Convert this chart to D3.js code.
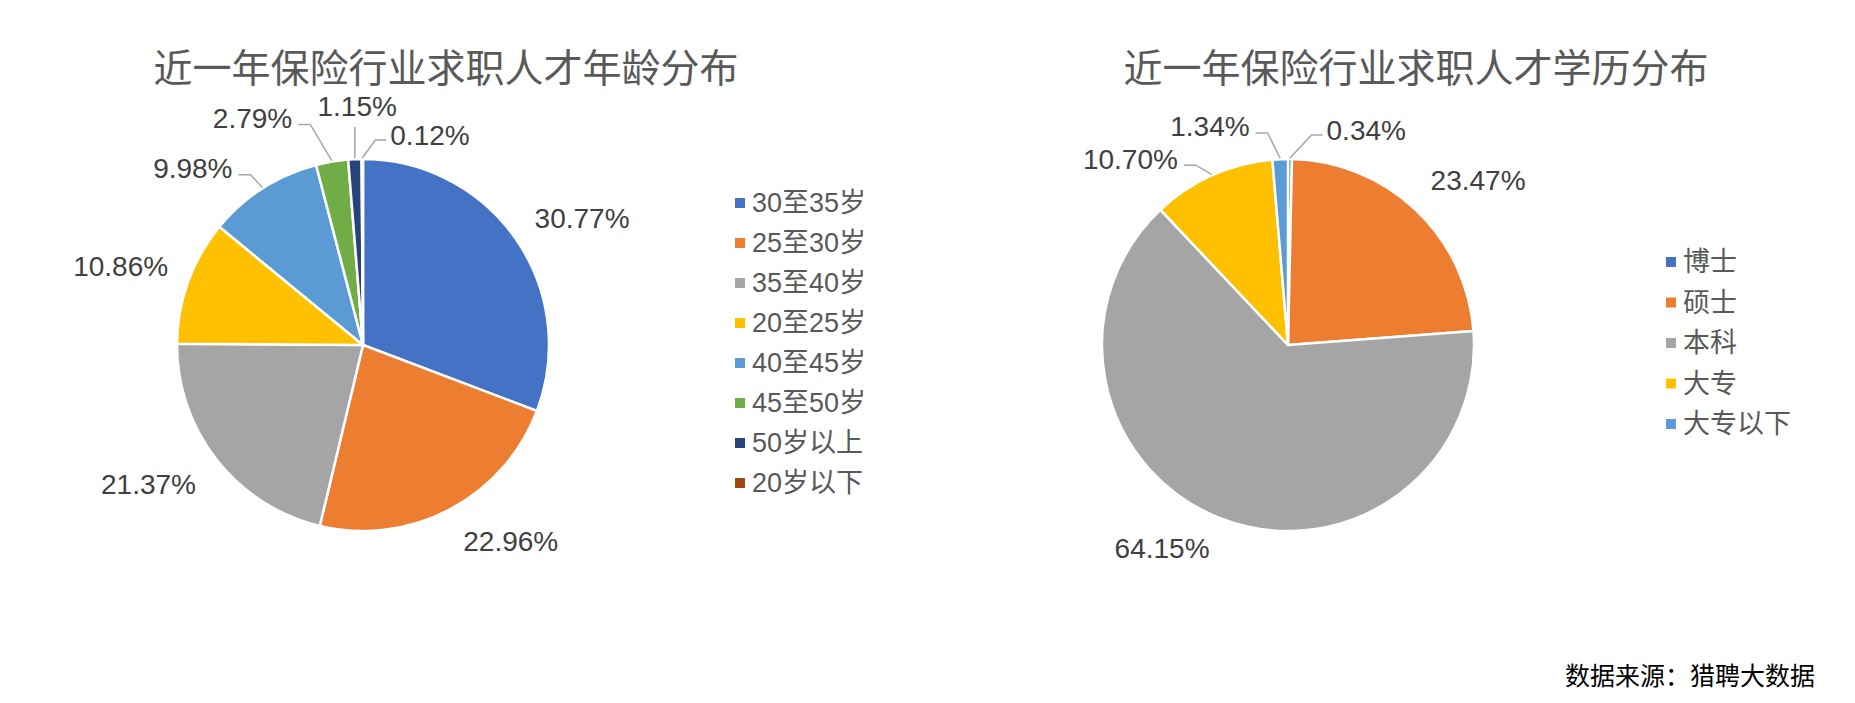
<!DOCTYPE html>
<html>
<head>
<meta charset="utf-8">
<script src="https://cdn.jsdelivr.net/npm/d3@7"></script>
<style>
  html, body { margin: 0; padding: 0; background: #fff; }
  svg { display: block; }
</style>
</head>
<body>
<svg id="chart" width="1855" height="703"></svg>
<script>
// ---------- data ----------
const ageTitle = "近一年保险行业求职人才年龄分布";
const ageCategories = ["30至35岁", "25至30岁", "35至40岁", "20至25岁", "40至45岁", "45至50岁", "50岁以上", "20岁以下"];
const ageValues = [30.77, 22.96, 21.37, 10.86, 9.98, 2.79, 1.15, 0.12];
const ageColors = ["#4472C4", "#ED7D31", "#A5A5A5", "#FFC000", "#5B9BD5", "#70AD47", "#264478", "#9E480E"];

const eduTitle = "近一年保险行业求职人才学历分布";
const eduCategories = ["博士", "硕士", "本科", "大专", "大专以下"];
const eduValues = [0.34, 23.47, 64.15, 10.70, 1.34];
const eduColors = ["#4472C4", "#ED7D31", "#A5A5A5", "#FFC000", "#5B9BD5"];

const sourceNote = "数据来源：猎聘大数据";

// label placement (polar: angle in degrees from top, distance as multiple of radius, leader?)
const ageLabelPolar = [[60, 1.36, false], [143, 1.32, false], [237, 1.375, false], [288, 1.37, false],
                       [316, 1.317, true], [334, 1.355, true], [358.6, 1.28, true], [17.7, 1.185, true]];
const eduLabelPolar = [[20, 1.23, true], [49.2, 1.35, false], [211.8, 1.285, false],
                       [319.7, 1.31, true], [340.3, 1.245, true]];

const svg = d3.select("#chart");
const CJK = "'Noto Sans CJK SC', sans-serif";
const NUM = "'Liberation Sans', 'Noto Sans CJK SC', sans-serif";

function drawPie(opt) {
  const { cx, cy, r, values, cats, colors, polar, title, titleX, legendX, legendY, legendStep } = opt;
  const g = svg.append("g");

  g.append("text")
    .attr("x", titleX).attr("y", 65)
    .attr("text-anchor", "middle").attr("dominant-baseline", "central")
    .style("font-family", CJK).style("font-size", "39px").style("fill", "#595959")
    .text(title);

  const pie = d3.pie().sort(null).value(d => d)(values);
  const arc = d3.arc().innerRadius(0).outerRadius(r);
  const pg = g.append("g").attr("transform", `translate(${cx},${cy})`);
  pg.selectAll("path").data(pie).join("path")
    .attr("d", arc)
    .attr("fill", (d, i) => colors[i])
    .attr("stroke", "#fff").attr("stroke-width", 2.5).attr("stroke-linejoin", "round");

  // labels
  pie.forEach((d, i) => {
    const [deg, k, leader] = polar[i];
    const a = deg * Math.PI / 180;
    const lx = cx + Math.sin(a) * r * k;
    const ly = cy - Math.cos(a) * r * k;
    const t = g.append("text")
      .attr("x", lx).attr("y", ly)
      .attr("text-anchor", "middle").attr("dominant-baseline", "central")
      .style("font-family", NUM).style("font-size", "28px").style("fill", "#404040")
      .text(values[i].toFixed(2) + "%");
    if (leader) {
      const w = t.node().getComputedTextLength();
      const mid = (d.startAngle + d.endAngle) / 2;
      const ex = cx + Math.sin(mid) * (r + 1);
      const ey = cy - Math.cos(mid) * (r + 1);
      let pts;
      if (Math.abs(ex - lx) < w / 4) {
        pts = [[ex, ey], [ex, ly + 20]];
      } else if (lx < ex) {
        const ax = lx + w / 2 + 6, ay = ly + 6;
        pts = [[ax, ay], [ax + 12, ay], [ex, ey]];
      } else {
        const ax = lx - w / 2 - 4, ay = ly + 5;
        pts = [[ax, ay], [ax - 11, ay], [ex, ey]];
      }
      g.append("path")
        .attr("d", d3.line()(pts))
        .attr("fill", "none").attr("stroke", "#A6A6A6").attr("stroke-width", 1.5);
    }
  });

  // legend
  const lg = g.append("g");
  cats.forEach((c, i) => {
    const y = legendY + i * legendStep;
    lg.append("rect").attr("x", legendX).attr("y", y - 5).attr("width", 10).attr("height", 10)
      .attr("fill", colors[i]);
    lg.append("text").attr("x", legendX + 17).attr("y", y)
      .attr("dominant-baseline", "central")
      .style("font-family", NUM).style("font-size", "27px").style("fill", "#595959")
      .text(c);
  });
}

drawPie({ cx: 363, cy: 345, r: 186, values: ageValues, cats: ageCategories, colors: ageColors,
  polar: ageLabelPolar, title: ageTitle, titleX: 446, legendX: 735, legendY: 203, legendStep: 40 });

drawPie({ cx: 1288, cy: 345, r: 186, values: eduValues, cats: eduCategories, colors: eduColors,
  polar: eduLabelPolar, title: eduTitle, titleX: 1416, legendX: 1666, legendY: 262, legendStep: 40.5 });

svg.append("text")
  .attr("x", 1565).attr("y", 674)
  .attr("dominant-baseline", "central")
  .style("font-family", CJK).style("font-size", "25px").style("fill", "#000")
  .text(sourceNote);
</script>
</body>
</html>
